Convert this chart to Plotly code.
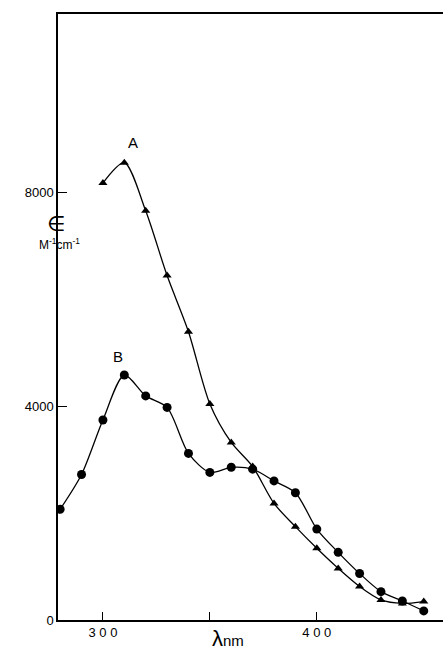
import plotly.graph_objects as go

wavelength = [280, 290, 300, 310, 320, 330, 340, 350, 360, 370, 380, 390, 400, 410, 420, 430, 440, 450]
eps_B = [2070, 2720, 3740, 4580, 4190, 3975, 3115, 2760, 2855, 2820, 2600, 2380, 1700, 1265, 870, 530, 355, 170]
wavelength_A = [300, 310, 320, 330, 340, 350, 360, 370, 380, 390, 400, 410, 420, 430, 440, 450]
eps_A = [8170, 8550, 7650, 6440, 5390, 4040, 3320, 2870, 2180, 1745, 1340, 965, 625, 375, 310, 345]

x_ticks = [300, 350, 400]
x_ticktext = ["3 0 0", "", "4 0 0"]
y_ticks = [0, 4000, 8000]
y_ticktext = ["0", "4000", "8000"]

fig = go.Figure()
fig.add_trace(go.Scatter(x=wavelength_A, y=eps_A, mode="lines+markers",
                         line=dict(color="black", width=1.3, shape="spline", smoothing=0.8),
                         marker=dict(symbol="triangle-up", size=8, color="black"),
                         showlegend=False))
fig.add_trace(go.Scatter(x=wavelength, y=eps_B, mode="lines+markers",
                         line=dict(color="black", width=1.3, shape="spline", smoothing=0.8),
                         marker=dict(symbol="circle", size=9, color="black"),
                         showlegend=False))

font = "Liberation Sans, Arial, sans-serif"
fig.update_layout(
    width=443, height=646,
    margin=dict(l=58, r=0, t=14, b=26, autoexpand=False),
    plot_bgcolor="white", paper_bgcolor="white",
    font=dict(family=font, color="black", size=12),
    xaxis=dict(range=[279, 459], tickvals=x_ticks, ticktext=x_ticktext,
               ticks="inside", ticklen=8, tickcolor="black", tickwidth=1.2,
               showline=True, linecolor="black", linewidth=1.5, mirror=True,
               showgrid=False, zeroline=False, tickfont=dict(size=13)),
    yaxis=dict(range=[0, 11330], tickvals=y_ticks, ticktext=y_ticktext,
               ticks="inside", ticklen=9, tickcolor="black", tickwidth=1.2,
               showline=True, linecolor="black", linewidth=1.5,
               showgrid=False, zeroline=False, tickfont=dict(size=13)),
    annotations=[
        dict(x=314, y=8930, text="A", showarrow=False, font=dict(size=15)),
        dict(x=307, y=4920, text="B", showarrow=False, font=dict(size=15)),
        dict(xref="paper", yref="paper", x=(228 - 58) / 385, y=-(638 - 620) / 606,
             text="<span style='font-size:22px'>λ</span><span style='font-size:15px'>nm</span>",
             showarrow=False, yanchor="middle"),
        dict(xref="paper", yref="paper", x=(45 - 58) / 385, y=(620 - 224) / 606,
             text="∈", showarrow=False, font=dict(size=21, family="DejaVu Sans"), textangle=0),
        dict(xref="paper", yref="paper", x=(37 - 58) / 385, y=(620 - 244) / 606,
             text="M<sup>-1</sup>cm<sup>-1</sup>", showarrow=False, font=dict(size=12)),
    ],
)
fig.write_html("out.html", config={"displayModeBar": False},
               post_script="document.body.style.margin='0';document.body.style.overflow='hidden';")
